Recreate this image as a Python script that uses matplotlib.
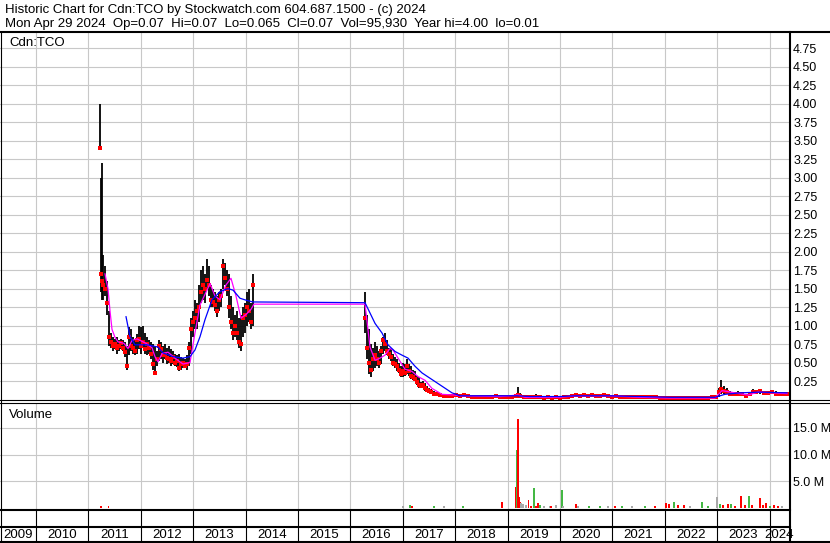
#!/usr/bin/env python3
"""Stockwatch-style historic chart for Cdn:TCO (weekly bars + volume)."""

import matplotlib

matplotlib.use("Agg")
import matplotlib.pyplot as plt
from matplotlib.lines import Line2D

W, H = 830, 543
plt.rcParams["font.family"] = ["Liberation Sans", "DejaVu Sans"]
FS = 9.0
FS_TITLE = 9.5

# ---- price bars, dates in decimal years -------------------------------
early_year = [2011.221, 2011.240, 2011.265, 2011.288, 2011.317, 2011.355,
              2011.393, 2011.431, 2011.470, 2011.508, 2011.546, 2011.584,
              2011.622, 2011.660, 2011.699, 2011.737, 2011.775, 2011.813,
              2011.851, 2011.889, 2011.928, 2011.966, 2012.004, 2012.042,
              2012.080, 2012.118, 2012.157, 2012.195, 2012.233, 2012.271,
              2012.309, 2012.347, 2012.386, 2012.424, 2012.462, 2012.500,
              2012.538, 2012.576, 2012.615, 2012.653, 2012.691, 2012.729,
              2012.767, 2012.805, 2012.844, 2012.882, 2012.920, 2012.958,
              2012.996, 2013.034, 2013.073, 2013.111, 2013.149, 2013.187,
              2013.225, 2013.263, 2013.302, 2013.340, 2013.378, 2013.416,
              2013.454, 2013.492, 2013.531, 2013.569, 2013.607, 2013.645,
              2013.683, 2013.721, 2013.760, 2013.798, 2013.836, 2013.874,
              2013.912, 2013.950, 2013.989, 2014.027, 2014.065, 2014.103,
              2014.141]
early_high = [4.00, 3.00, 3.20, 1.95, 1.80, 1.60, 1.20, 0.90, 0.85, 0.82,
              0.85, 0.80, 0.82, 0.80, 0.78, 0.72, 0.98, 0.95, 0.85, 0.80,
              0.88, 1.00, 0.98, 1.00, 0.90, 0.85, 0.80, 0.78, 0.75, 0.72,
              0.66, 0.80, 0.78, 0.72, 0.75, 0.70, 0.72, 0.68, 0.65, 0.62,
              0.60, 0.62, 0.58, 0.56, 0.55, 0.60, 0.78, 1.10, 1.20, 1.35,
              1.30, 1.55, 1.75, 1.80, 1.70, 1.90, 1.80, 1.55, 1.50, 1.45,
              1.40, 1.45, 1.50, 1.90, 1.85, 1.75, 1.70, 1.40, 1.25, 1.15,
              1.20, 1.10, 1.15, 1.25, 1.30, 1.45, 1.50, 1.30, 1.70]
early_low = [3.40, 1.45, 1.35, 1.35, 1.40, 1.15, 0.72, 0.70, 0.66, 0.68,
             0.62, 0.65, 0.68, 0.66, 0.58, 0.40, 0.60, 0.65, 0.62, 0.60,
             0.62, 0.68, 0.62, 0.70, 0.62, 0.60, 0.62, 0.55, 0.40, 0.33,
             0.46, 0.52, 0.55, 0.50, 0.55, 0.48, 0.50, 0.45, 0.48, 0.45,
             0.44, 0.38, 0.40, 0.42, 0.42, 0.40, 0.45, 0.62, 0.85, 0.95,
             0.95, 1.05, 1.30, 1.35, 1.30, 1.50, 1.40, 1.25, 1.25, 1.20,
             1.12, 1.20, 1.25, 1.50, 1.55, 1.40, 1.10, 0.95, 0.80, 0.85,
             0.80, 0.70, 0.65, 0.85, 0.90, 1.00, 1.05, 0.95, 1.00]
early_close = [3.40, 1.70, 1.60, 1.55, 1.50, 1.30, 0.85, 0.78, 0.72, 0.75,
               0.70, 0.72, 0.76, 0.70, 0.64, 0.45, 0.85, 0.72, 0.70, 0.66,
               0.80, 0.82, 0.72, 0.78, 0.68, 0.75, 0.70, 0.62, 0.48, 0.36,
               0.55, 0.72, 0.68, 0.60, 0.62, 0.56, 0.55, 0.52, 0.58, 0.50,
               0.52, 0.42, 0.48, 0.50, 0.45, 0.48, 0.70, 0.95, 1.05, 1.10,
               1.20, 1.25, 1.45, 1.55, 1.50, 1.62, 1.55, 1.35, 1.32, 1.28,
               1.20, 1.35, 1.40, 1.80, 1.65, 1.50, 1.25, 1.05, 0.90, 1.00,
               0.90, 0.78, 0.75, 1.10, 1.15, 1.25, 1.20, 1.05, 1.55]

mid_year = [2016.279, 2016.317, 2016.355, 2016.393, 2016.431, 2016.470,
            2016.508, 2016.546, 2016.584, 2016.622, 2016.660, 2016.699,
            2016.737, 2016.775, 2016.813, 2016.851, 2016.889, 2016.928,
            2016.966, 2017.004, 2017.042, 2017.080, 2017.118, 2017.157,
            2017.195, 2017.233, 2017.271, 2017.309, 2017.347, 2017.386,
            2017.424, 2017.462, 2017.500, 2017.538, 2017.595, 2017.653,
            2017.710, 2017.786, 2017.863]
mid_high = [1.45, 1.15, 0.95, 0.75, 0.70, 0.78, 0.72, 0.65, 0.72, 0.85,
            0.90, 0.80, 0.70, 0.68, 0.62, 0.58, 0.55, 0.50, 0.46, 0.50,
            0.48, 0.55, 0.48, 0.45, 0.40, 0.38, 0.32, 0.30, 0.24, 0.25,
            0.22, 0.18, 0.15, 0.14, 0.12, 0.10, 0.09, 0.08, 0.07]
mid_low = [0.90, 0.55, 0.35, 0.31, 0.38, 0.42, 0.45, 0.42, 0.48, 0.62,
           0.65, 0.60, 0.55, 0.52, 0.45, 0.42, 0.38, 0.36, 0.30, 0.30,
           0.32, 0.35, 0.32, 0.28, 0.27, 0.25, 0.20, 0.16, 0.15, 0.16,
           0.12, 0.11, 0.10, 0.08, 0.07, 0.06, 0.05, 0.04, 0.04]
mid_close = [1.10, 0.70, 0.50, 0.40, 0.55, 0.60, 0.55, 0.50, 0.65, 0.80,
             0.75, 0.65, 0.62, 0.58, 0.50, 0.48, 0.45, 0.40, 0.34, 0.38,
             0.36, 0.45, 0.38, 0.32, 0.30, 0.28, 0.24, 0.20, 0.18, 0.20,
             0.15, 0.13, 0.12, 0.10, 0.08, 0.07, 0.06, 0.05, 0.05]

late_year = [2017.939, 2018.015, 2018.092, 2018.168, 2018.244, 2018.321,
             2018.397, 2018.473, 2018.550, 2018.626, 2018.702, 2018.779,
             2018.855, 2018.931, 2019.008, 2019.084, 2019.160, 2019.189,
             2019.237, 2019.313, 2019.389, 2019.466, 2019.542, 2019.618,
             2019.695, 2019.771, 2019.847, 2019.924, 2020.000, 2020.076,
             2020.153, 2020.229, 2020.305, 2020.382, 2020.458, 2020.534,
             2020.611, 2020.687, 2020.763, 2020.840, 2020.916, 2020.992,
             2021.069, 2021.145, 2021.221, 2021.298, 2021.374, 2021.450,
             2021.527, 2021.603, 2021.679, 2021.756, 2021.832, 2021.908,
             2021.985, 2022.061, 2022.137, 2022.214, 2022.290, 2022.366,
             2022.443, 2022.519, 2022.595, 2022.672, 2022.748, 2022.824,
             2022.901, 2022.977, 2023.034, 2023.072, 2023.130, 2023.187,
             2023.244, 2023.321, 2023.397, 2023.473, 2023.550, 2023.626,
             2023.683, 2023.740, 2023.817, 2023.893, 2023.969, 2024.046,
             2024.122, 2024.198, 2024.275, 2024.332]
late_high = [0.08, 0.08, 0.07, 0.08, 0.07, 0.06, 0.06, 0.05, 0.05, 0.06,
             0.05, 0.08, 0.06, 0.05, 0.05, 0.05, 0.07, 0.17,
             0.09, 0.05, 0.04, 0.04, 0.08, 0.04, 0.04, 0.04, 0.03, 0.04,
             0.04, 0.05, 0.04, 0.06, 0.08, 0.07, 0.08, 0.07, 0.08, 0.07,
             0.06, 0.08, 0.07, 0.06, 0.07, 0.06, 0.05, 0.05, 0.05, 0.05,
             0.05, 0.04, 0.05, 0.04, 0.04, 0.04, 0.03, 0.03, 0.03, 0.03,
             0.04, 0.03, 0.03, 0.03, 0.03, 0.03, 0.03, 0.04, 0.03, 0.05,
             0.15, 0.26, 0.18, 0.15, 0.12, 0.10, 0.12, 0.10, 0.08, 0.09,
             0.14, 0.12, 0.14, 0.12, 0.11, 0.12, 0.11, 0.10, 0.09, 0.08]
late_low = [0.04, 0.04, 0.04, 0.05, 0.04, 0.03, 0.03, 0.02, 0.03, 0.03,
            0.03, 0.04, 0.03, 0.03, 0.02, 0.03, 0.03, 0.04,
            0.04, 0.02, 0.02, 0.02, 0.02, 0.02, 0.01, 0.02, 0.01, 0.02,
            0.01, 0.02, 0.02, 0.03, 0.04, 0.04, 0.05, 0.04, 0.04, 0.04,
            0.04, 0.04, 0.03, 0.03, 0.03, 0.03, 0.03, 0.03, 0.02, 0.03,
            0.02, 0.02, 0.02, 0.02, 0.02, 0.01, 0.01, 0.01, 0.01, 0.01,
            0.01, 0.01, 0.01, 0.01, 0.01, 0.01, 0.01, 0.01, 0.02, 0.02,
            0.04, 0.08, 0.08, 0.07, 0.06, 0.05, 0.06, 0.05, 0.04, 0.05,
            0.07, 0.08, 0.08, 0.07, 0.07, 0.08, 0.06, 0.06, 0.06, 0.06]
late_close = [0.05, 0.06, 0.05, 0.06, 0.05, 0.04, 0.04, 0.03, 0.04, 0.04,
              0.04, 0.05, 0.04, 0.04, 0.03, 0.04, 0.05, 0.06,
              0.05, 0.03, 0.03, 0.03, 0.03, 0.03, 0.02, 0.03, 0.02, 0.03,
              0.02, 0.03, 0.03, 0.05, 0.06, 0.05, 0.06, 0.05, 0.06, 0.05,
              0.05, 0.06, 0.05, 0.04, 0.05, 0.04, 0.04, 0.04, 0.04, 0.04,
              0.03, 0.03, 0.03, 0.03, 0.03, 0.02, 0.02, 0.02, 0.02, 0.02,
              0.02, 0.02, 0.02, 0.02, 0.02, 0.02, 0.02, 0.02, 0.03, 0.04,
              0.10, 0.14, 0.12, 0.10, 0.08, 0.07, 0.08, 0.07, 0.05, 0.07,
              0.10, 0.10, 0.11, 0.09, 0.09, 0.10, 0.08, 0.08, 0.08, 0.07]

# ---- moving averages ---------------------------------------------------
fast_year = [2011.317, 2011.374, 2011.412, 2011.450, 2011.508, 2011.565,
             2011.679, 2011.756, 2011.832, 2011.928, 2012.099, 2012.214,
             2012.271, 2012.328, 2012.405, 2012.519, 2012.653, 2012.805,
             2012.939, 2013.034, 2013.130, 2013.263, 2013.321, 2013.416,
             2013.511, 2013.626, 2013.721, 2013.817, 2013.912, 2014.008,
             2014.103, 2014.160, 2016.279, 2016.374, 2016.470, 2016.565,
             2016.660, 2016.756, 2016.813, 2016.909, 2017.042, 2017.176,
             2017.290, 2017.424, 2017.557, 2017.748, 2017.996, 2018.092,
             2018.855, 2019.198, 2019.332, 2020.000, 2020.286, 2020.954,
             2021.527, 2022.099, 2022.958, 2023.092, 2023.340, 2023.588,
             2023.779, 2024.332]
fast_ma = [1.70, 1.50, 1.20, 0.95, 0.84, 0.78, 0.76, 0.69, 0.80, 0.82,
           0.76, 0.70, 0.58, 0.51, 0.62, 0.64, 0.56, 0.48, 0.50, 0.90,
           1.28, 1.48, 1.57, 1.40, 1.35, 1.55, 1.64, 1.40, 1.10, 1.15,
           1.22, 1.29, 1.29, 0.71, 0.53, 0.56, 0.60, 0.69, 0.67, 0.56,
           0.41, 0.38, 0.31, 0.26, 0.15, 0.07, 0.06, 0.05, 0.04, 0.06,
           0.03, 0.03, 0.05, 0.05, 0.03, 0.02, 0.02, 0.12, 0.09, 0.06,
           0.10, 0.08]

slow_year = [2011.718, 2011.794, 2011.889, 2012.118, 2012.328, 2012.424,
             2012.615, 2012.805, 2012.939, 2013.034, 2013.130, 2013.225,
             2013.359, 2013.511, 2013.664, 2013.760, 2013.893, 2014.027,
             2014.141, 2016.279, 2016.470, 2016.603, 2016.717, 2016.851,
             2016.985, 2017.099, 2017.233, 2017.366, 2017.557, 2017.748,
             2017.939, 2018.092, 2018.855, 2019.179, 2019.428, 2020.000,
             2020.286, 2020.954, 2021.527, 2022.099, 2022.958, 2023.149,
             2023.435, 2023.817, 2024.332]
slow_ma = [1.12, 0.85, 0.74, 0.74, 0.71, 0.63, 0.58, 0.56, 0.58, 0.67,
           0.85, 1.08, 1.35, 1.46, 1.50, 1.48, 1.37, 1.34, 1.32, 1.31,
           1.03, 0.90, 0.74, 0.65, 0.60, 0.56, 0.45, 0.36, 0.27, 0.18,
           0.09, 0.05, 0.05, 0.05, 0.04, 0.04, 0.05, 0.05, 0.04, 0.03,
           0.03, 0.07, 0.09, 0.10, 0.09]

# ---- volume (millions); d = down, u = up, n = unchanged ----------------
vol_year = [2011.233, 2011.384, 2017.004, 2017.137, 2017.176, 2017.595,
            2017.786, 2018.149, 2018.893, 2019.160, 2019.173, 2019.193,
            2019.218, 2019.237, 2019.256, 2019.294, 2019.351, 2019.399,
            2019.447, 2019.504, 2019.542, 2019.580, 2019.618, 2019.695,
            2019.809, 2019.828, 2019.924, 2020.038, 2020.057, 2020.305,
            2020.344, 2020.553, 2020.763, 2020.916, 2021.050, 2021.183,
            2021.374, 2021.622, 2021.813, 2022.023, 2022.080, 2022.176,
            2022.252, 2022.366, 2022.481, 2022.710, 2022.824, 2022.996,
            2023.053, 2023.111, 2023.206, 2023.263, 2023.340, 2023.454,
            2023.531, 2023.607, 2023.664, 2023.817, 2023.874, 2023.931,
            2024.008, 2024.084, 2024.160, 2024.237]
vol_m = [0.3, 0.3, 0.2, 0.5, 0.2, 0.2, 0.2, 0.2, 1.0, 3.8, 10.8, 16.7,
         2.0, 1.0, 0.8, 0.7, 0.4, 1.5, 0.3, 3.7, 0.3, 0.9, 0.5, 0.2, 0.2,
         0.3, 0.5, 3.3, 0.3, 0.6, 0.3, 0.2, 0.2, 0.2, 0.3, 0.2, 0.2, 0.2,
         0.2, 0.8, 0.7, 1.1, 0.5, 0.5, 0.2, 1.1, 0.3, 2.0, 0.6, 0.4, 0.7,
         0.6, 0.3, 2.2, 0.5, 2.2, 0.4, 1.7, 0.5, 0.8, 0.3, 0.4, 0.2, 0.2]
vol_dir = ["d", "d", "n", "u", "d", "u", "n", "u", "d", "d", "u", "d",
           "d", "d", "n", "n", "n", "d", "d", "u", "d", "d", "u", "n", "n",
           "d", "n", "u", "n", "d", "n", "u", "u", "n", "d", "u", "n", "u",
           "d", "d", "d", "u", "d", "d", "n", "u", "u", "n", "u", "d", "d",
           "u", "d", "d", "d", "u", "d", "d", "d", "d", "u", "d", "d", "n"]

price_ticks = [0.25, 0.50, 0.75, 1.00, 1.25, 1.50, 1.75, 2.00, 2.25, 2.50,
               2.75, 3.00, 3.25, 3.50, 3.75, 4.00, 4.25, 4.50, 4.75]
vol_ticks = [5, 10, 15]
year_labels = list(range(2009, 2025))

TITLE_1 = "Historic Chart for Cdn:TCO by Stockwatch.com 604.687.1500 - (c) 2024"
TITLE_2 = ("Mon Apr 29 2024  Op=0.07  Hi=0.07  Lo=0.065  Cl=0.07  "
           "Vol=95,930  Year hi=4.00  lo=0.01")

X_LO, X_HI = 2009.313, 2024.370
GRID = "#c8c8c8"
VOL_COLORS = {"d": "#ff0000", "u": "#44b844", "n": "#a8a8a8"}


def px_axes(fig, left, top, right, bottom):
    return fig.add_axes([left / W, 1 - bottom / H,
                         (right - left) / W, (bottom - top) / H])


def hline(fig, y, x0, x1, lw):
    fig.add_artist(Line2D([x0 / W, x1 / W], [1 - y / H, 1 - y / H],
                          transform=fig.transFigure, color="black", lw=lw))


def vline(fig, x, y0, y1, lw):
    fig.add_artist(Line2D([x / W, x / W], [1 - y0 / H, 1 - y1 / H],
                          transform=fig.transFigure, color="black", lw=lw))


def bare(ax):
    for s in ax.spines.values():
        s.set_visible(False)
    ax.set_xlim(X_LO, X_HI)
    ax.tick_params(length=0, labelbottom=False, labelleft=False)


fig = plt.figure(figsize=(W / 100, H / 100), dpi=100)

# price panel
ax = px_axes(fig, 0, 31.5, 789, 399.7)
bare(ax)
ax.set_ylim((399.5 - 399.7) / 73.9, (399.5 - 31.5) / 73.9)
ax.set_axisbelow(True)
ax.set_xticks(year_labels[1:])
ax.set_yticks(price_ticks)
ax.set_yticklabels([f"{v:.2f}" for v in price_ticks])
ax.yaxis.tick_right()
ax.tick_params(axis="y", labelright=True, pad=3, labelsize=FS)
ax.grid(True, color=GRID, lw=0.8)

for yr, hi, lo, cl in ((early_year, early_high, early_low, early_close),
                       (mid_year, mid_high, mid_low, mid_close),
                       (late_year, late_high, late_low, late_close)):
    ax.vlines(yr, lo, hi, color="black", lw=1.3)
    ax.plot(yr, cl, "s", color="#ff0000", ms=2.3, mew=0)
ax.plot(fast_year, fast_ma, color="#ff00ff", lw=0.9)
ax.plot(slow_year, slow_ma, color="#0000ff", lw=0.9)
fig.text(9 / W, 1 - 46 / H, "Cdn:TCO", fontsize=FS_TITLE, va="baseline")

# volume panel
axv = px_axes(fig, 0, 402.7, 789, 509.5)
bare(axv)
axv.set_ylim((507.5 - 509.5) / 5.3, (507.5 - 402.7) / 5.3)
axv.set_axisbelow(True)
axv.set_xticks(year_labels[1:])
axv.set_yticks(vol_ticks)
axv.set_yticklabels([f"{v:.1f} M" for v in vol_ticks])
axv.yaxis.tick_right()
axv.tick_params(axis="y", labelright=True, pad=3, labelsize=FS)
axv.grid(True, color=GRID, lw=0.8)
axv.bar(vol_year, vol_m, width=0.034, color=[VOL_COLORS[d] for d in vol_dir],
        lw=0)
fig.text(9 / W, 1 - 418 / H, "Volume", fontsize=FS_TITLE, va="baseline")

# empty band and year label band
axb = px_axes(fig, 0, 509.5, 789, 526.8)
bare(axb)
axb.vlines(year_labels[1:], 0, 1, color="black", lw=0.8)
axb.set_ylim(0, 1)

axy = px_axes(fig, 0, 526.8, 789, 541.7)
bare(axy)
axy.set_ylim(0, 1)
axy.vlines(year_labels[1:], 0, 1, color="black", lw=0.8)
for yr in year_labels:
    mid = (max(yr, X_LO) + min(yr + 1, X_HI)) / 2
    axy.text(mid, 0.45, str(yr), ha="center", va="center",
             fontsize=FS_TITLE, clip_on=False)

# frame
hline(fig, 31.5, 0, W, 1.5)
hline(fig, 399.7, 0, W, 0.8)
hline(fig, 402.7, 0, W, 0.8)
hline(fig, 509.5, 0, 789.5, 1.5)
hline(fig, 526.8, 0, 789.5, 1.5)
hline(fig, 541.7, 0, W, 1.5)
vline(fig, 789.5, 31.5, H, 1.5)
vline(fig, 0.5, 31.5, 541.7, 0.8)

fig.text(5 / W, 1 - 12.5 / H, TITLE_1, fontsize=FS_TITLE, va="baseline")
fig.text(5 / W, 1 - 26.5 / H, TITLE_2, fontsize=FS_TITLE, va="baseline")

fig.savefig("out.png", dpi=100)
